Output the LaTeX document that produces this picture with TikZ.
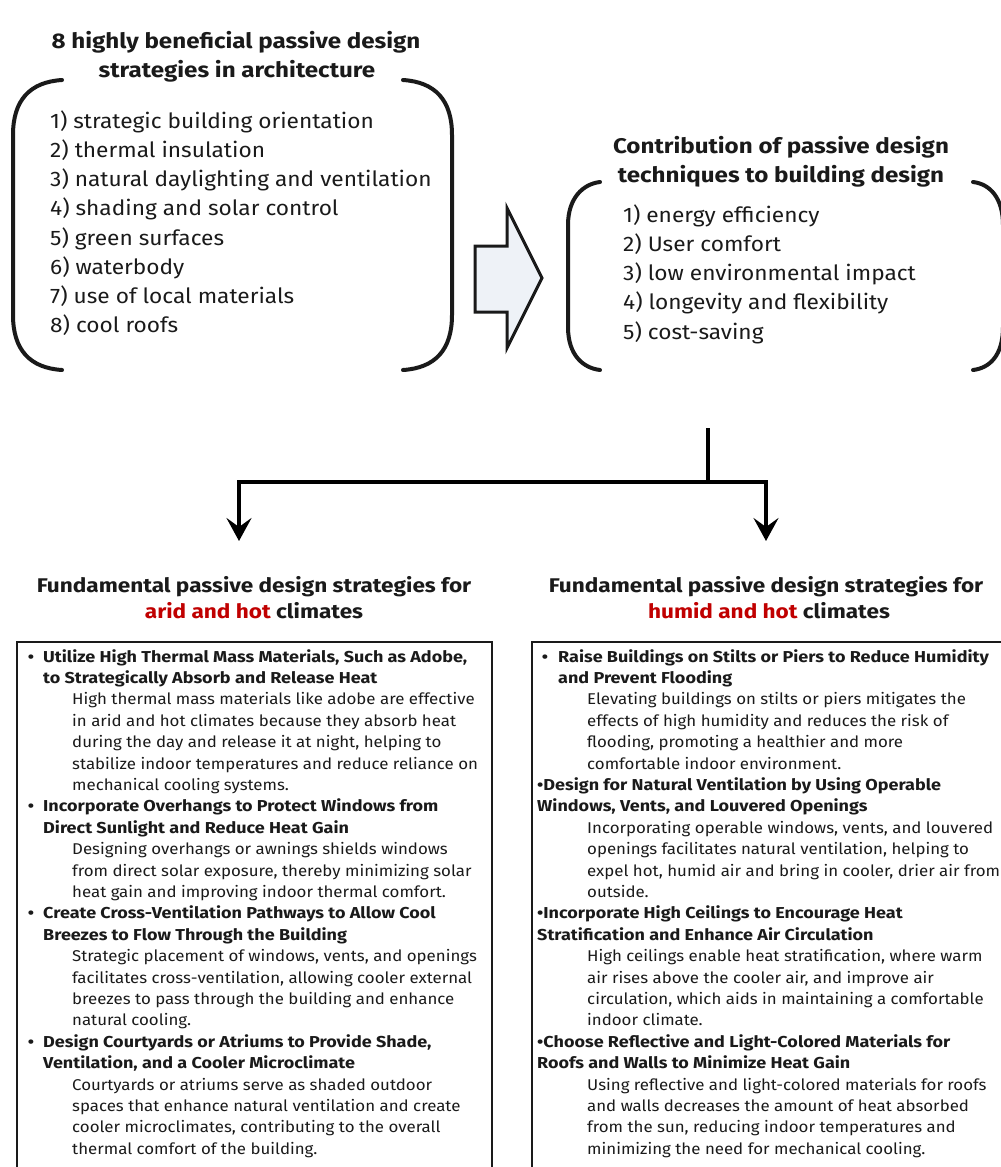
\documentclass[tikz,border=0pt]{standalone}
\usepackage{fontspec}
\setmainfont{Fira Sans}
\newfontfamily\regw[FakeStretch=1.08]{Fira Sans}
\newfontfamily\boldw[FakeStretch=1.14]{Fira Sans}
\usetikzlibrary{arrows.meta}
\definecolor{hotred}{HTML}{C00000}
\definecolor{ink}{HTML}{1A1A1A}
\definecolor{arrowfill}{HTML}{EEF2F7}
\newcommand\bl[5]{\node[txt,#1] (#2) at ({#3},{640.6+21.4*#4}) {#5};}
\newcommand\bul[1]{\makebox[0pt][r]{•\hspace{#1pt}}}
\begin{document}
\begin{tikzpicture}[x=1pt,y=-1pt,
  txt/.style={anchor=base west,inner sep=0pt,text=ink},
  ctr/.style={anchor=base,inner sep=0pt,text=ink},
  bigtitle/.style={font=\boldw\bfseries\fontsize{21.2}{25}\selectfont},
  subtitle/.style={font=\boldw\bfseries\fontsize{19.8}{24}\selectfont},
  bigitem/.style={font=\regw\fontsize{21}{25}\selectfont},
  body/.style={font=\regw\fontsize{15.6}{19}\selectfont},
  head/.style={font=\boldw\bfseries\fontsize{15.8}{19}\selectfont},
  paren/.style={line width=4pt,line cap=round,draw=ink},
  conn/.style={line width=4.5pt,draw=black},
  tip/.style={-{Stealth[length=23pt,width=25pt,inset=9pt]}},
  box/.style={draw=ink,line width=2.2pt,inner sep=0pt,anchor=north west}]
\useasboundingbox (0,0) rectangle (1001,1167);
\clip (0,0) rectangle (1001,1167);

% ---------- top-left group ----------
\node[ctr,bigtitle] (t1a) at (236,48.3) {8 highly beneficial passive design};
\node[ctr,bigtitle] (t1b) at (237,77.3) {strategies in architecture};
\draw[paren] (62,80) .. controls (30,82) and (13,100) .. (13,135) -- (13,315) .. controls (13,350) and (30,368) .. (62,370);
\draw[paren] (403,80) .. controls (435,82) and (452,100) .. (452,135) -- (452,315) .. controls (452,350) and (435,368) .. (403,370);
\foreach \i/\t in {1/{1) strategic building orientation},2/{2) thermal insulation},3/{3) natural daylighting and ventilation},4/{4) shading and solar control},5/{5) green surfaces},6/{6) waterbody},7/{7) use of local materials},8/{8) cool roofs}}
  \node[txt,bigitem] (s\i) at (50,{128.3+29.2*(\i-1)}) {\t};

% ---------- block arrow ----------
\draw[line width=3pt,draw=ink,fill=arrowfill,line join=miter]
  (475,246) -- (507,246) -- (507,208) -- (542,278) -- (507,348) -- (507,312) -- (475,312) -- cycle;

% ---------- top-right group ----------
\node[ctr,bigtitle] (t2a) at (781,153) {Contribution of passive design};
\node[ctr,bigtitle] (t2b) at (781,182) {techniques to building design};
\draw[paren] (600,182) .. controls (583,184) and (568,198) .. (568,225) -- (568,327) .. controls (568,355) and (583,368) .. (600,370);
\draw[paren] (973,182) .. controls (990,184) and (1003,198) .. (1003,225) -- (1003,327) .. controls (1003,355) and (990,368) .. (973,370);
\foreach \i/\t in {1/{1) energy efficiency},2/{2) User comfort},3/{3) low environmental impact},4/{4) longevity and flexibility},5/{5) cost-saving}}
  \node[txt,bigitem] (c\i) at (623,{222+29.3*(\i-1)}) {\t};

% ---------- connector ----------
\coordinate (src) at (708,428);
\coordinate (jn) at (708,482);
\coordinate (aridTip) at (239,541);
\coordinate (humidTip) at (766,541);
\draw[conn] (src) -- (jn);
\draw[conn,tip] (jn) -| (aridTip);
\draw[conn,tip] (jn) -| (humidTip);

% ---------- bottom titles ----------
\node[ctr,subtitle] (ha) at (254,592) {Fundamental passive design strategies for};
\node[ctr,subtitle] (hb) at (254,618) {\textcolor{hotred}{arid and hot} climates};
\node[ctr,subtitle] (ka) at (766,592) {Fundamental passive design strategies for};
\node[ctr,subtitle] (kb) at (769,618) {\textcolor{hotred}{humid and hot} climates};

% ---------- boxes ----------
\node[box,minimum width=475pt,minimum height=560pt] (aridBox) at (16,641) {};
\node[box,minimum width=480pt,minimum height=560pt] (humidBox) at (531,641) {};

% ---------- left column ----------
\bl{head}{L1}{43}{1}{\bul{9}Utilize High Thermal Mass Materials, Such as Adobe,}
\bl{head}{L2}{43}{2}{to Strategically Absorb and Release Heat}
\bl{body}{L3}{72}{3}{High thermal mass materials like adobe are effective}
\bl{body}{L4}{72}{4}{in arid and hot climates because they absorb heat}
\bl{body}{L5}{72}{5}{during the day and release it at night, helping to}
\bl{body}{L6}{72}{6}{stabilize indoor temperatures and reduce reliance on}
\bl{body}{L7}{72}{7}{mechanical cooling systems.}
\bl{head}{L8}{43}{8}{\bul{9}Incorporate Overhangs to Protect Windows from}
\bl{head}{L9}{43}{9}{Direct Sunlight and Reduce Heat Gain}
\bl{body}{L10}{72}{10}{Designing overhangs or awnings shields windows}
\bl{body}{L11}{72}{11}{from direct solar exposure, thereby minimizing solar}
\bl{body}{L12}{72}{12}{heat gain and improving indoor thermal comfort.}
\bl{head}{L13}{43}{13}{\bul{9}Create Cross-Ventilation Pathways to Allow Cool}
\bl{head}{L14}{43}{14}{Breezes to Flow Through the Building}
\bl{body}{L15}{72}{15}{Strategic placement of windows, vents, and openings}
\bl{body}{L16}{72}{16}{facilitates cross-ventilation, allowing cooler external}
\bl{body}{L17}{72}{17}{breezes to pass through the building and enhance}
\bl{body}{L18}{72}{18}{natural cooling.}
\bl{head}{L19}{43}{19}{\bul{9}Design Courtyards or Atriums to Provide Shade,}
\bl{head}{L20}{43}{20}{Ventilation, and a Cooler Microclimate}
\bl{body}{L21}{72}{21}{Courtyards or atriums serve as shaded outdoor}
\bl{body}{L22}{72}{22}{spaces that enhance natural ventilation and create}
\bl{body}{L23}{72}{23}{cooler microclimates, contributing to the overall}
\bl{body}{L24}{72}{24}{thermal comfort of the building.}

% ---------- right column ----------
\bl{head}{R1}{558}{1}{\bul{10}Raise Buildings on Stilts or Piers to Reduce Humidity}
\bl{head}{R2}{558}{2}{and Prevent Flooding}
\bl{body}{R3}{587}{3}{Elevating buildings on stilts or piers mitigates the}
\bl{body}{R4}{587}{4}{effects of high humidity and reduces the risk of}
\bl{body}{R5}{587}{5}{flooding, promoting a healthier and more}
\bl{body}{R6}{587}{6}{comfortable indoor environment.}
\bl{head}{R7}{537}{7}{•Design for Natural Ventilation by Using Operable}
\bl{head}{R8}{537}{8}{Windows, Vents, and Louvered Openings}
\bl{body}{R9}{587}{9}{Incorporating operable windows, vents, and louvered}
\bl{body}{R10}{587}{10}{openings facilitates natural ventilation, helping to}
\bl{body}{R11}{587}{11}{expel hot, humid air and bring in cooler, drier air from}
\bl{body}{R12}{587}{12}{outside.}
\bl{head}{R13}{537}{13}{•Incorporate High Ceilings to Encourage Heat}
\bl{head}{R14}{537}{14}{Stratification and Enhance Air Circulation}
\bl{body}{R15}{587}{15}{High ceilings enable heat stratification, where warm}
\bl{body}{R16}{587}{16}{air rises above the cooler air, and improve air}
\bl{body}{R17}{587}{17}{circulation, which aids in maintaining a comfortable}
\bl{body}{R18}{587}{18}{indoor climate.}
\bl{head}{R19}{537}{19}{•Choose Reflective and Light-Colored Materials for}
\bl{head}{R20}{537}{20}{Roofs and Walls to Minimize Heat Gain}
\bl{body}{R21}{587}{21}{Using reflective and light-colored materials for roofs}
\bl{body}{R22}{587}{22}{and walls decreases the amount of heat absorbed}
\bl{body}{R23}{587}{23}{from the sun, reducing indoor temperatures and}
\bl{body}{R24}{587}{24}{minimizing the need for mechanical cooling.}
\end{tikzpicture}
\end{document}
